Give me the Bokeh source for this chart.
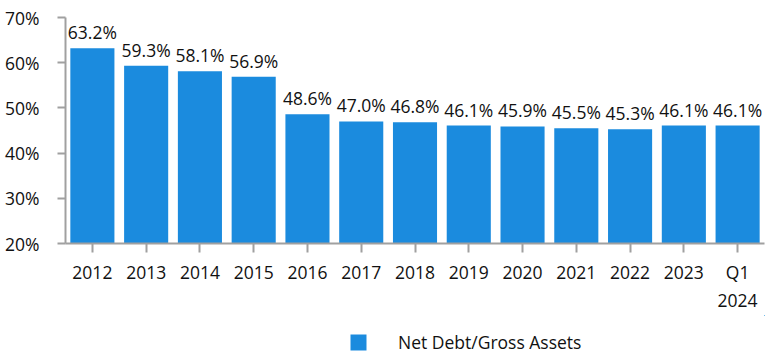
from bokeh.plotting import figure
from bokeh.layouts import column
from bokeh.models import ColumnDataSource, FactorRange, Range1d, LabelSet, Legend, LegendItem, FixedTicker
from bokeh.core.properties import value
from bokeh.embed import file_html
from bokeh.resources import INLINE

categories = ["2012", "2013", "2014", "2015", "2016", "2017", "2018", "2019", "2020", "2021", "2022", "2023", "Q1\n2024"]
values = [63.2, 59.3, 58.1, 56.9, 48.6, 47.0, 46.8, 46.1, 45.9, 45.5, 45.3, 46.1, 46.1]
series_name = "Net Debt/Gross Assets"
y_ticks = [20, 30, 40, 50, 60, 70]

FONT = "Open Sans"
FS = "17.5px"
BAR = "#1b8bde"
AXIS = "#a0a0a0"

src = ColumnDataSource(dict(cat=categories, val=values, lab=[f"{v:.1f}%" for v in values]))

p = figure(width=784, height=315, output_backend="svg", toolbar_location=None,
           x_range=FactorRange(*categories, range_padding=0), y_range=Range1d(20, 70),
           min_border_left=65, min_border_right=20, min_border_top=17, min_border_bottom=71)
p.outline_line_color = None
p.xgrid.grid_line_color = None
p.ygrid.grid_line_color = None

r = p.vbar(x="cat", top="val", bottom=20, width=0.82, source=src, fill_color=BAR, line_color=None)

labels = LabelSet(x="cat", y="val", text="lab", source=src, text_align="center",
                  text_baseline="alphabetic", y_offset=9, text_font=value(FONT), text_font_size=value(FS),
                  text_color="#111111")
p.add_layout(labels)

p.yaxis.ticker = FixedTicker(ticks=y_ticks)
p.yaxis.major_label_overrides = {t: f"{t}%" for t in y_ticks}
p.yaxis.minor_tick_line_color = None
p.yaxis.major_tick_out = 8
p.yaxis.major_tick_in = 0
p.yaxis.major_label_standoff = 18
p.xaxis.major_tick_out = 9
p.xaxis.major_tick_in = 0
p.xaxis.major_label_standoff = 7
for ax in (p.xaxis, p.yaxis):
    ax.axis_line_color = AXIS
    ax.axis_line_width = 2
    ax.major_tick_line_color = AXIS
    ax.major_tick_line_width = 2
    ax.major_label_text_font = FONT
    ax.major_label_text_font_size = FS
    ax.major_label_text_color = "#111111"

# legend strip below the chart (its bars lie outside the strip's visible range)
p2 = figure(width=784, height=40, output_backend="svg", toolbar_location=None,
            x_range=Range1d(0, 1), y_range=Range1d(0, 1),
            x_axis_type=None, y_axis_type=None,
            min_border_left=0, min_border_right=0, min_border_top=0, min_border_bottom=0)
p2.outline_line_color = None
p2.grid.visible = False
r2 = p2.vbar(x="val", top="val", bottom="val", width=0.5, source=src, fill_color=BAR, line_color=None)
legend = Legend(items=[LegendItem(label=series_name, renderers=[r2])], location=(283, 1),
                glyph_width=20, glyph_height=20, label_standoff=30, padding=0, margin=0,
                border_line_color=None, background_fill_alpha=0,
                label_text_font=FONT, label_text_font_size=FS, label_text_color="#111111")
p2.add_layout(legend, "center")

layout = column(p, p2, spacing=0)
open("out.html", "w").write(file_html(layout, INLINE))
